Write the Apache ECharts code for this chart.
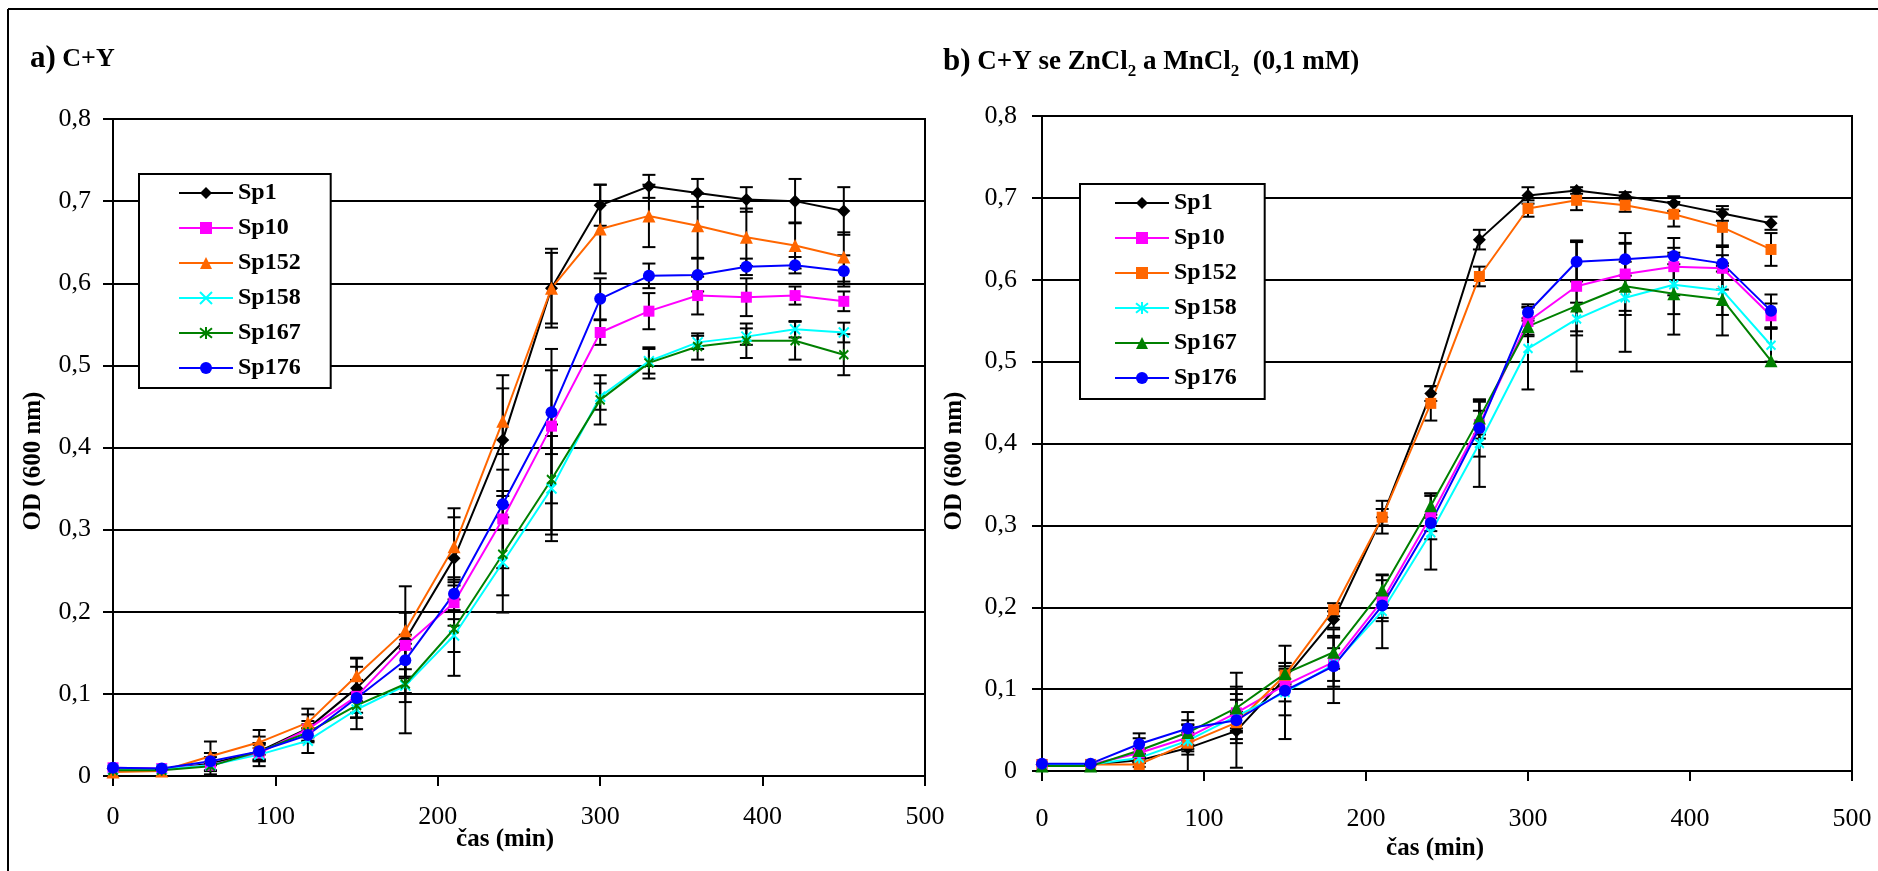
<!DOCTYPE html>
<html>
<head>
<meta charset="utf-8">
<script src="https://cdn.jsdelivr.net/npm/echarts@6/dist/echarts.min.js"></script>
<style>
html,body{margin:0;padding:0;background:#fff;}
#chart{width:1878px;height:871px;}
</style>
</head>
<body>
<div id="chart"></div>
<script>
// ---------- DATA ----------
const times = [0, 30, 60, 90, 120, 150, 180, 210, 240, 270, 300, 330, 360, 390, 420, 450];
const seriesNames = ['Sp1', 'Sp10', 'Sp152', 'Sp158', 'Sp167', 'Sp176'];
const xTickLabels = ['0', '100', '200', '300', '400', '500'];
const yTickLabels = ['0', '0,1', '0,2', '0,3', '0,4', '0,5', '0,6', '0,7', '0,8'];

// a) C+Y
const a_Sp1   = [0.009, 0.008, 0.015, 0.030, 0.058, 0.107, 0.166, 0.265, 0.409, 0.594, 0.695, 0.718, 0.710, 0.702, 0.700, 0.688];
const a_Sp10  = [0.010, 0.009, 0.013, 0.028, 0.057, 0.097, 0.159, 0.211, 0.313, 0.426, 0.540, 0.566, 0.585, 0.583, 0.585, 0.578];
const a_Sp152 = [0.005, 0.006, 0.024, 0.041, 0.065, 0.122, 0.177, 0.279, 0.432, 0.594, 0.666, 0.682, 0.670, 0.656, 0.646, 0.632];
const a_Sp158 = [0.008, 0.008, 0.013, 0.026, 0.043, 0.081, 0.110, 0.171, 0.260, 0.350, 0.462, 0.505, 0.528, 0.535, 0.544, 0.540];
const a_Sp167 = [0.007, 0.007, 0.012, 0.030, 0.053, 0.086, 0.112, 0.179, 0.270, 0.361, 0.458, 0.503, 0.523, 0.530, 0.530, 0.513];
const a_Sp176 = [0.010, 0.009, 0.018, 0.030, 0.050, 0.095, 0.141, 0.222, 0.331, 0.443, 0.581, 0.609, 0.610, 0.620, 0.622, 0.615];

const a_Sp1_err   = [0, 0, 0.013, 0.018, 0.017, 0.036, 0.065, 0.050, 0.079, 0.048, 0.025, 0.014, 0.017, 0.015, 0.027, 0.029];
const a_Sp10_err  = [0, 0, 0, 0.010, 0.010, 0.020, 0.040, 0.028, 0.060, 0.094, 0.015, 0.022, 0.023, 0.023, 0.011, 0.012];
const a_Sp152_err = [0, 0, 0.018, 0.015, 0.017, 0.022, 0.022, 0.047, 0.040, 0.043, 0.054, 0.038, 0.039, 0.035, 0.028, 0.030];
const a_Sp158_err = [0, 0, 0, 0.008, 0.015, 0.010, 0.020, 0.020, 0.040, 0.064, 0.016, 0.015, 0.008, 0.010, 0.010, 0.012];
const a_Sp167_err = [0, 0, 0.005, 0.010, 0.010, 0.015, 0.060, 0.057, 0.071, 0.067, 0.030, 0.019, 0.016, 0.021, 0.023, 0.025];
const a_Sp176_err = [0, 0, 0.005, 0.010, 0.008, 0.038, 0.020, 0.020, 0.016, 0.051, 0.025, 0.015, 0.020, 0.010, 0.010, 0.019];

// b) C+Y se ZnCl2 a MnCl2 (0,1 mM)
const b_Sp1   = [0.008, 0.008, 0.013, 0.028, 0.049, 0.113, 0.185, 0.310, 0.461, 0.649, 0.703, 0.709, 0.702, 0.693, 0.681, 0.669];
const b_Sp10  = [0.008, 0.008, 0.022, 0.041, 0.071, 0.105, 0.133, 0.208, 0.311, 0.423, 0.549, 0.592, 0.607, 0.616, 0.614, 0.556];
const b_Sp152 = [0.008, 0.008, 0.008, 0.034, 0.059, 0.117, 0.197, 0.310, 0.449, 0.604, 0.687, 0.697, 0.691, 0.680, 0.664, 0.637];
const b_Sp158 = [0.008, 0.008, 0.016, 0.037, 0.067, 0.096, 0.130, 0.195, 0.291, 0.400, 0.516, 0.552, 0.578, 0.594, 0.587, 0.520];
const b_Sp167 = [0.006, 0.006, 0.025, 0.047, 0.077, 0.119, 0.145, 0.221, 0.324, 0.431, 0.543, 0.568, 0.592, 0.583, 0.576, 0.501];
const b_Sp176 = [0.009, 0.009, 0.033, 0.052, 0.062, 0.098, 0.128, 0.202, 0.303, 0.419, 0.560, 0.622, 0.625, 0.629, 0.620, 0.562];

const b_Sp1_err   = [0, 0, 0.003, 0.028, 0.045, 0.010, 0.010, 0.010, 0.009, 0.012, 0.010, 0.004, 0.005, 0.009, 0.009, 0.008];
const b_Sp10_err  = [0, 0, 0.005, 0.021, 0.032, 0.020, 0.030, 0.025, 0.028, 0.017, 0.018, 0.055, 0.050, 0.035, 0.026, 0.015];
const b_Sp152_err = [0, 0, 0.003, 0.010, 0.010, 0.015, 0.008, 0.020, 0.021, 0.012, 0.010, 0.012, 0.008, 0.015, 0.022, 0.020];
const b_Sp158_err = [0, 0, 0.005, 0.010, 0.020, 0.057, 0.020, 0.045, 0.045, 0.053, 0.050, 0.020, 0.066, 0.036, 0.030, 0.020];
const b_Sp167_err = [0, 0, 0.015, 0.010, 0.043, 0.013, 0.020, 0.018, 0.015, 0.020, 0.010, 0.080, 0.030, 0.050, 0.044, 0];
const b_Sp176_err = [0, 0, 0.013, 0.020, 0.010, 0.030, 0.045, 0.015, 0.010, 0.035, 0.010, 0.024, 0.020, 0.010, 0.010, 0.020];

// ---------- STYLE ----------
const FONT = 'Liberation Serif';
const colors = ['#000000', '#FF00FF', '#FF6600', '#00FFFF', '#008000', '#0000FF'];
const SYM_X = 'path://M0,0L10,10M10,0L0,10';
const SYM_AST = 'path://M1,1L9,9M9,1L1,9M5,0L5,10';
const symA = [
  {s: 'diamond', size: 13},
  {s: 'rect', size: 11},
  {s: 'triangle', size: 13},
  {s: SYM_X, size: 10, path: true},
  {s: SYM_AST, size: [9, 11], path: true},
  {s: 'circle', size: 12}
];
const symB = [
  {s: 'diamond', size: 13},
  {s: 'rect', size: 11},
  {s: 'rect', size: 11},
  {s: SYM_AST, size: [9, 11], path: true},
  {s: 'triangle', size: 13},
  {s: 'circle', size: 12}
];
const dataA = [a_Sp1, a_Sp10, a_Sp152, a_Sp158, a_Sp167, a_Sp176];
const errA = [a_Sp1_err, a_Sp10_err, a_Sp152_err, a_Sp158_err, a_Sp167_err, a_Sp176_err];
const dataB = [b_Sp1, b_Sp10, b_Sp152, b_Sp158, b_Sp167, b_Sp176];
const errB = [b_Sp1_err, b_Sp10_err, b_Sp152_err, b_Sp158_err, b_Sp167_err, b_Sp176_err];

const SUFFIX_B = ' (b)';

function errorSeries(vals, errs, gi) {
  const d = [];
  times.forEach((t, i) => { if (errs[i] > 0) d.push([t, vals[i], errs[i]]); });
  return {
    type: 'custom',
    xAxisIndex: gi, yAxisIndex: gi,
    silent: true, z: 2, animation: false,
    data: d,
    renderItem: function (params, api) {
      const x = api.value(0), y = api.value(1), e = api.value(2);
      const p1 = api.coord([x, y + e]);
      const p2 = api.coord([x, y - e]);
      const hw = 6.5;
      const st = {stroke: '#000', lineWidth: 2};
      return {
        type: 'group',
        children: [
          {type: 'line', shape: {x1: p1[0], y1: p1[1], x2: p2[0], y2: p2[1]}, style: st},
          {type: 'line', shape: {x1: p1[0] - hw, y1: p1[1], x2: p1[0] + hw, y2: p1[1]}, style: st},
          {type: 'line', shape: {x1: p2[0] - hw, y1: p2[1], x2: p2[0] + hw, y2: p2[1]}, style: st}
        ]
      };
    }
  };
}

function lineSeries(name, vals, sym, color, gi) {
  return {
    type: 'line', name: name,
    xAxisIndex: gi, yAxisIndex: gi,
    data: times.map((t, i) => [t, vals[i]]),
    symbol: sym.s, symbolSize: sym.size,
    showSymbol: true, showAllSymbol: true,
    lineStyle: {color: color, width: 2},
    itemStyle: {color: color, borderColor: color, borderWidth: sym.path ? 2 : 0},
    z: 3, animation: false, silent: true
  };
}

const series = [];
dataA.forEach((v, i) => series.push(errorSeries(v, errA[i], 0)));
dataB.forEach((v, i) => series.push(errorSeries(v, errB[i], 1)));
dataA.forEach((v, i) => series.push(lineSeries(seriesNames[i], v, symA[i], colors[i], 0)));
dataB.forEach((v, i) => series.push(lineSeries(seriesNames[i] + SUFFIX_B, v, symB[i], colors[i], 1)));

function xAxis(gi, margin) {
  return {
    type: 'value', gridIndex: gi, min: 0, max: 500, interval: 100,
    axisLine: {show: true, onZero: false, lineStyle: {color: '#000', width: 2}},
    axisTick: {show: true, inside: false, length: 10, lineStyle: {color: '#000', width: 2}},
    axisLabel: {show: true, margin: margin, color: '#000', fontFamily: FONT, fontSize: 26,
      formatter: v => xTickLabels[Math.round(v / 100)]},
    splitLine: {show: false}
  };
}
function yAxis(gi, margin) {
  return {
    type: 'value', gridIndex: gi, min: 0, max: 0.8, interval: 0.1,
    axisLine: {show: true, onZero: false, lineStyle: {color: '#000', width: 2}},
    axisTick: {show: true, inside: false, length: 10, lineStyle: {color: '#000', width: 2}},
    axisLabel: {show: true, margin: margin, color: '#000', fontFamily: FONT, fontSize: 26,
      formatter: v => yTickLabels[Math.round(v * 10)]},
    splitLine: {show: true, lineStyle: {color: '#000', width: 2}}
  };
}

function legend(left, top, padding, suffix) {
  return {
    data: seriesNames.map(n => n + suffix),
    orient: 'vertical', left: left, top: top,
    itemWidth: 54, itemHeight: 15, itemGap: 11,
    padding: padding,
    backgroundColor: '#fff', borderColor: '#000', borderWidth: 2, borderRadius: 0,
    selectedMode: false,
    textStyle: {fontFamily: FONT, fontWeight: 'bold', fontSize: 24, color: '#000'},
    formatter: n => n.replace(SUFFIX_B, '')
  };
}

const titleRich = {
  big: {fontFamily: FONT, fontWeight: 'bold', fontSize: 31, lineHeight: 36, fill: '#000'},
  t: {fontFamily: FONT, fontWeight: 'bold', fontSize: 26, lineHeight: 36, fill: '#000'},
  t2: {fontFamily: FONT, fontWeight: 'bold', fontSize: 27, lineHeight: 36, fill: '#000'},
  sub: {fontFamily: FONT, fontWeight: 'bold', fontSize: 17, lineHeight: 24, verticalAlign: 'bottom', fill: '#000'}
};
const axisNameStyle = {fontFamily: FONT, fontWeight: 'bold', fontSize: 25, fill: '#000', align: 'center', verticalAlign: 'middle'};

const option = {
  backgroundColor: '#fff',
  animation: false,
  grid: [
    {left: 113, top: 119, width: 812, height: 657, show: true, borderColor: '#000', borderWidth: 2, backgroundColor: 'transparent'},
    {left: 1042, top: 116, width: 810, height: 655, show: true, borderColor: '#000', borderWidth: 2, backgroundColor: 'transparent'}
  ],
  xAxis: [xAxis(0, 28), xAxis(1, 35)],
  yAxis: [yAxis(0, 22), yAxis(1, 25)],
  legend: [
    legend(139, 174, [7, 30, 8, 39], ''),
    legend(1080, 184, [7, 28, 9, 34], SUFFIX_B)
  ],
  series: series,
  graphic: [
    {type: 'line', shape: {x1: 8, y1: 9, x2: 1878, y2: 9}, style: {stroke: '#000', lineWidth: 2}, silent: true},
    {type: 'line', shape: {x1: 8, y1: 9, x2: 8, y2: 871}, style: {stroke: '#000', lineWidth: 2}, silent: true},
    {type: 'text', x: 30, y: 41, silent: true,
      style: {text: '{big|a)}{t| C+Y}', rich: titleRich, verticalAlign: 'top'}},
    {type: 'text', x: 943, y: 44, silent: true,
      style: {text: '{big|b)}{t2| C+Y se ZnCl}{sub|2}{t2| a MnCl}{sub|2}{t2|  (0,1 mM)}', rich: titleRich, verticalAlign: 'top'}},
    {type: 'text', x: 34, y: 461, rotation: Math.PI / 2, silent: true,
      style: Object.assign({text: 'OD (600 nm)'}, axisNameStyle)},
    {type: 'text', x: 955, y: 461, rotation: Math.PI / 2, silent: true,
      style: Object.assign({text: 'OD (600 nm)'}, axisNameStyle)},
    {type: 'text', x: 505, y: 840, silent: true,
      style: Object.assign({text: 'čas (min)'}, axisNameStyle)},
    {type: 'text', x: 1435, y: 849, silent: true,
      style: Object.assign({text: 'čas (min)'}, axisNameStyle)}
  ]
};

const chart = echarts.init(document.getElementById('chart'), null, {renderer: 'canvas'});
chart.setOption(option);
</script>
</body>
</html>
